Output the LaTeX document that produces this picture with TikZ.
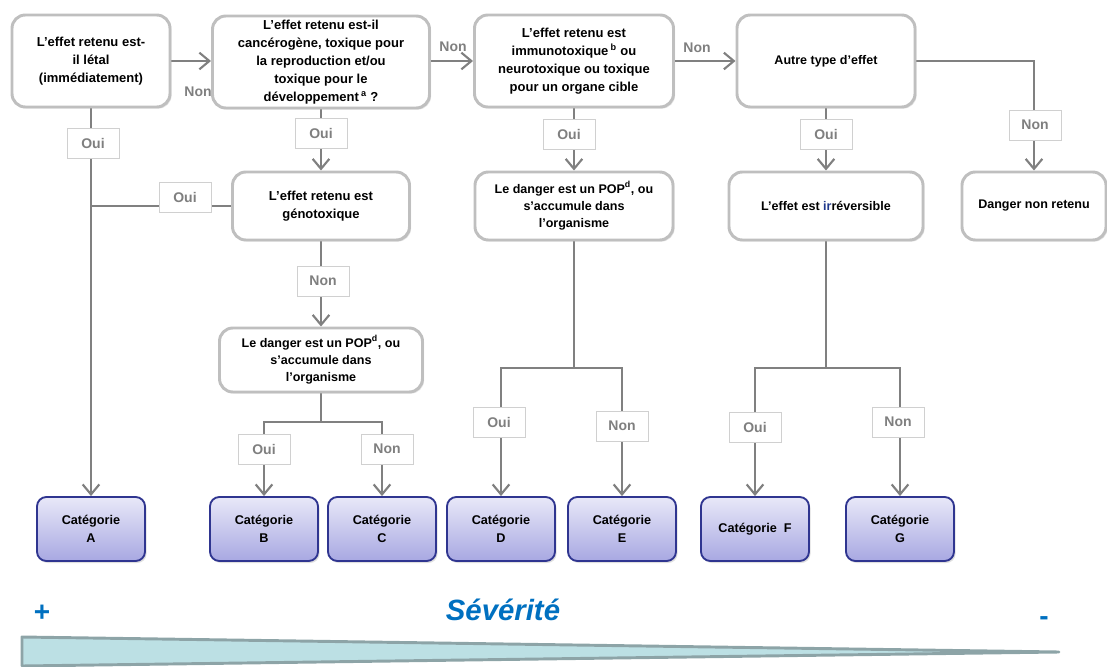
\documentclass[tikz,border=0pt]{standalone}
\usepackage{fontspec}
\setmainfont{Liberation Sans}
\usetikzlibrary{arrows.meta,shadows,backgrounds}

\definecolor{linegray}{RGB}{128,128,128}
\definecolor{boxgray}{RGB}{191,191,191}
\definecolor{lblgray}{RGB}{127,127,127}
\definecolor{lblborder}{RGB}{208,208,208}
\definecolor{catborder}{RGB}{47,53,144}
\definecolor{cattop}{RGB}{232,232,248}
\definecolor{catbot}{RGB}{168,168,226}
\definecolor{wedgefill}{RGB}{188,224,228}
\definecolor{wedgeline}{RGB}{141,164,167}
\definecolor{sevblue}{RGB}{0,112,192}
\definecolor{irnavy}{RGB}{31,56,140}

\begin{document}
\begin{tikzpicture}[x=0.75pt,y=-0.75pt,
  conn/.style={draw=linegray,line width=1.6pt},
  arr/.style={conn,-{Straight Barb[length=7.5pt,width=12.5pt]}},
  qbox/.style={draw=boxgray,line width=2.2pt,fill=white,rounded corners=10pt,
    align=center,inner sep=2pt,
    drop shadow={opacity=0.22,shadow xshift=1.2pt,shadow yshift=-1.2pt}},
  bigtxt/.style={font=\fontsize{9.75}{13.5}\selectfont\bfseries},
  midtxt/.style={font=\fontsize{9.4}{13}\selectfont\bfseries},
  catbox/.style={draw=catborder,line width=1.4pt,rounded corners=7pt,
    top color=cattop,bottom color=catbot,align=center,inner sep=1pt,
    minimum width=81pt,minimum height=48pt,
    font=\fontsize{9.5}{13.5}\selectfont\bfseries,
    drop shadow={opacity=0.25,shadow xshift=1.2pt,shadow yshift=-1.5pt}},
  lbl/.style={draw=lblborder,line width=0.6pt,fill=white,text=lblgray,
    font=\fontsize{10.5}{12}\selectfont\bfseries,
    minimum width=39pt,minimum height=22.5pt,inner sep=1pt},
  plainlbl/.style={text=lblgray,font=\fontsize{10.5}{12}\selectfont\bfseries,inner sep=1pt}
]
\useasboundingbox (0,0) rectangle (1107,667);

% first row of questions
\node[qbox,bigtxt,minimum width=118.5pt,minimum height=69pt] (b1) at (91,61)
  {L’effet retenu est-\\il létal\\(immédiatement)};
\node[qbox,bigtxt,minimum width=162.75pt,minimum height=69pt] (b2) at (321,62)
  {L’effet retenu est-il\\cancérogène, toxique pour\\la reproduction et/ou\\toxique pour le\\développement\,\textsuperscript{a} ?};
\node[qbox,bigtxt,minimum width=149.25pt,minimum height=69pt] (b3) at (574,61)
  {L’effet retenu est\\immunotoxique\,\textsuperscript{b} ou\\neurotoxique ou toxique\\pour un organe cible};
\node[qbox,midtxt,minimum width=133.5pt,minimum height=69pt] (b4) at (826,61)
  {Autre type d’effet};

% second row
\node[qbox,bigtxt,minimum width=132.75pt,minimum height=51pt] (geno) at (321,206)
  {L’effet retenu est\\génotoxique};
\node[qbox,midtxt,minimum width=148.5pt,minimum height=51pt] (pop2) at (574,206)
  {Le danger est un POP\textsuperscript{d}, ou\\s’accumule dans\\l’organisme};
\node[qbox,midtxt,minimum width=145.5pt,minimum height=51pt] (irr) at (826,206)
  {L’effet est {\color{irnavy}ir}réversible};
\node[qbox,midtxt,minimum width=108pt,minimum height=51pt] (dnr) at (1034,206)
  {Danger non retenu};

% third row
\node[qbox,midtxt,minimum width=152.25pt,minimum height=48pt] (pop1) at (321,360)
  {Le danger est un POP\textsuperscript{d}, ou\\s’accumule dans\\l’organisme};

% categories
\node[catbox] (catA) at (91,529)  {Catégorie\\A};
\node[catbox] (catB) at (264,529) {Catégorie\\B};
\node[catbox] (catC) at (382,529) {Catégorie\\C};
\node[catbox] (catD) at (501,529) {Catégorie\\D};
\node[catbox] (catE) at (622,529) {Catégorie\\E};
\node[catbox] (catF) at (755,529) {Catégorie~~F};
\node[catbox] (catG) at (900,529) {Catégorie\\G};

% answer labels
\node[plainlbl] (n12) at (198,92) {Non};
\node[plainlbl] (n23) at (453,47) {Non};
\node[plainlbl] (n34) at (697,48) {Non};
\node[lbl] (oA)  at (93,143)  {Oui};
\node[lbl] (oG)  at (185,197) {Oui};
\node[lbl] (o2)  at (321,133) {Oui};
\node[lbl] (nGe) at (323,281) {Non};
\node[lbl] (oB)  at (264,449) {Oui};
\node[lbl] (nC)  at (387,449) {Non};
\node[lbl] (o3)  at (569,134) {Oui};
\node[lbl] (oD)  at (499,422) {Oui};
\node[lbl] (nE)  at (622,426) {Non};
\node[lbl] (o4)  at (826,134) {Oui};
\node[lbl] (oF)  at (755,427) {Oui};
\node[lbl] (nG)  at (898,422) {Non};
\node[lbl] (nR)  at (1035,125) {Non};

% junctions of the connectors
\coordinate (jA) at (91,206);
\coordinate (s1) at (321,422);
\coordinate (s2) at (574,368);
\coordinate (s3) at (826,368);

\begin{pgfonlayer}{background}
  \draw[arr] (b1.east) -- (b1.east -| b2.west);
  \draw[arr] (b2.east |- b3.west) -- (b3.west);
  \draw[arr] (b3) -- (b4);
  \draw[arr] (b4.east) -| (dnr);
  \draw[arr] (b1) -- (catA);
  \draw[conn] (geno) -- (jA);
  \draw[arr] (b2) -- (geno);
  \draw[arr] (geno) -- (pop1);
  \draw[conn] (pop1) -- (s1);
  \draw[arr] (s1) -| (catB);
  \draw[arr] (s1) -| (catC);
  \draw[arr] (b3) -- (pop2);
  \draw[conn] (pop2) -- (s2);
  \draw[arr] (s2) -| (catD);
  \draw[arr] (s2) -| (catE);
  \draw[arr] (b4) -- (irr);
  \draw[conn] (irr) -- (s3);
  \draw[arr] (s3) -| (catF);
  \draw[arr] (s3) -| (catG);
\end{pgfonlayer}

% severity scale
\fill[wedgefill] (22,637) -- (1059,652) -- (22,666) -- cycle;
\draw[wedgeline,line width=2.2pt,line join=round,line cap=round]
  (22,666) -- (22,637) -- (1059,652) -- (22,666);
\node[text=sevblue,font=\fontsize{22}{24}\selectfont\bfseries\itshape] (sev) at (503,610) {Sévérité};
\node[text=sevblue,font=\fontsize{21}{24}\selectfont\bfseries] (plus) at (42,613) {+};
\node[text=sevblue,font=\fontsize{21}{24}\selectfont\bfseries] (minus) at (1044,621) {-};
\end{tikzpicture}
\end{document}
